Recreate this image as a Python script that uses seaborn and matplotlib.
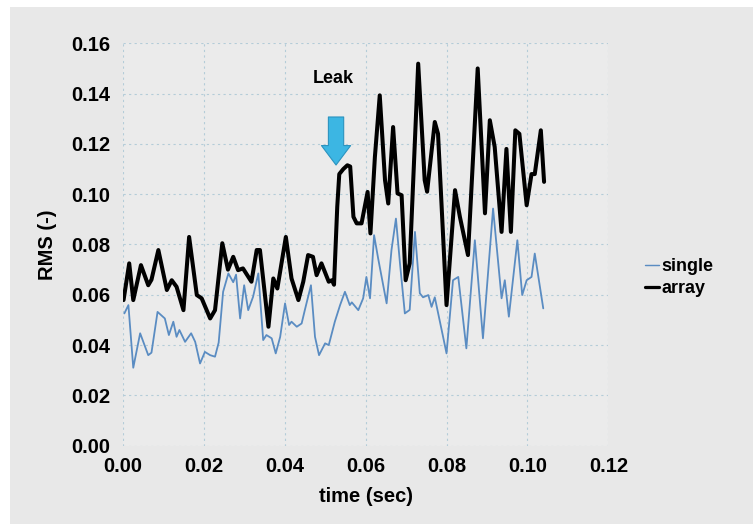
import seaborn as sns
import pandas as pd
import matplotlib.pyplot as plt
from matplotlib.patches import Rectangle

# values
single_t = [0.0004, 0.0014, 0.0026, 0.0043, 0.0063, 0.0071, 0.0086, 0.0104, 0.0114, 0.0125,
            0.0133, 0.0140, 0.0154, 0.0169, 0.0179, 0.0191, 0.0203, 0.0216, 0.0228, 0.0237,
            0.0248, 0.0261, 0.0273, 0.0280, 0.0290, 0.0300, 0.0310, 0.0322, 0.0335, 0.0347,
            0.0355, 0.0368, 0.0378, 0.0389, 0.0401, 0.0411, 0.0417, 0.0430, 0.0442, 0.0450,
            0.0465, 0.0475, 0.0485, 0.0500, 0.0509, 0.0524, 0.0537, 0.0549, 0.0561, 0.0566,
            0.0582, 0.0594, 0.0602, 0.0611, 0.0621, 0.0631, 0.0652, 0.0664, 0.0675, 0.0685,
            0.0697, 0.0709, 0.0722, 0.0734, 0.0742, 0.0755, 0.0763, 0.0771, 0.0788, 0.0800,
            0.0816, 0.0829, 0.0849, 0.0870, 0.0890, 0.0915, 0.0936, 0.0944, 0.0954, 0.0975,
            0.0987, 0.0998, 0.1010, 0.1018, 0.1039]
single_v = [0.0526, 0.0559, 0.0310, 0.0447, 0.0360, 0.0370, 0.0532, 0.0506, 0.0440, 0.0493,
            0.0433, 0.0460, 0.0413, 0.0447, 0.0413, 0.0327, 0.0373, 0.0360, 0.0354, 0.0410,
            0.0612, 0.0685, 0.0650, 0.0680, 0.0506, 0.0638, 0.0539, 0.0592, 0.0685, 0.0420,
            0.0440, 0.0427, 0.0367, 0.0433, 0.0566, 0.0480, 0.0493, 0.0473, 0.0486, 0.0540,
            0.0638, 0.0433, 0.0360, 0.0407, 0.0400, 0.0493, 0.0559, 0.0612, 0.0559, 0.0570,
            0.0539, 0.0586, 0.0671, 0.0586, 0.0837, 0.0745, 0.0566, 0.0778, 0.0903, 0.0725,
            0.0526, 0.0540, 0.0850, 0.0606, 0.0590, 0.0599, 0.0552, 0.0590, 0.0460, 0.0367,
            0.0658, 0.0671, 0.0387, 0.0817, 0.0427, 0.0943, 0.0586, 0.0658, 0.0513, 0.0817,
            0.0599, 0.0658, 0.0671, 0.0764, 0.0546]

array_t = [0.0002, 0.0016, 0.0026, 0.0045, 0.0063, 0.0071, 0.0088, 0.0109, 0.0121, 0.0133,
           0.0150, 0.0164, 0.0183, 0.0195, 0.0216, 0.0228, 0.0246, 0.0260, 0.0273, 0.0285,
           0.0297, 0.0318, 0.0331, 0.0339, 0.0350, 0.0360, 0.0372, 0.0382, 0.0403, 0.0417,
           0.0434, 0.0446, 0.0458, 0.0470, 0.0479, 0.0491, 0.0509, 0.0517, 0.0522, 0.0530,
           0.0535, 0.0545, 0.0555, 0.0562, 0.0570, 0.0578, 0.0590, 0.0605, 0.0612, 0.0623,
           0.0635, 0.0648, 0.0656, 0.0668, 0.0679, 0.0689, 0.0699, 0.0709, 0.0730, 0.0746,
           0.0752, 0.0771, 0.0779, 0.0800, 0.0821, 0.0833, 0.0853, 0.0877, 0.0895, 0.0907,
           0.0919, 0.0936, 0.0948, 0.0959, 0.0970, 0.0980, 0.0998, 0.1010, 0.1018, 0.1033,
           0.1041]
array_v = [0.0579, 0.0725, 0.0579, 0.0718, 0.0638, 0.0660, 0.0778, 0.0619, 0.0658, 0.0632,
           0.0539, 0.0830, 0.0599, 0.0586, 0.0506, 0.0539, 0.0805, 0.0700, 0.0751, 0.0698,
           0.0705, 0.0652, 0.0778, 0.0778, 0.0619, 0.0473, 0.0665, 0.0625, 0.0830, 0.0665,
           0.0579, 0.0652, 0.0758, 0.0751, 0.0678, 0.0725, 0.0652, 0.0658, 0.0640, 0.0950,
           0.1080, 0.1100, 0.1115, 0.1110, 0.0910, 0.0884, 0.0884, 0.1009, 0.0844, 0.1148,
           0.1393, 0.1056, 0.0963, 0.1267, 0.1003, 0.0996, 0.0658, 0.0725, 0.1519, 0.1056,
           0.1010, 0.1287, 0.1240, 0.0559, 0.1016, 0.0910, 0.0758, 0.1500, 0.0924, 0.1294,
           0.1188, 0.0850, 0.1180, 0.0850, 0.1254, 0.1240, 0.0956, 0.1080, 0.1080, 0.1254,
           0.1049]

series_names = ['single', 'array']
series_colors = {'single': '#5a8cc2', 'array': '#000000'}
series_widths = {'single': 1.3, 'array': 2.9}

df = pd.concat([
    pd.DataFrame({'time (sec)': single_t, 'RMS (-)': single_v, 'series': 'single'}),
    pd.DataFrame({'time (sec)': array_t, 'RMS (-)': array_v, 'series': 'array'}),
])

sns.set_theme(style='whitegrid')
plt.rcParams['font.family'] = ['Liberation Sans', 'DejaVu Sans']
plt.rcParams['font.weight'] = 'bold'
plt.rcParams['text.color'] = 'black'
plt.rcParams['axes.labelcolor'] = 'black'
plt.rcParams['xtick.color'] = 'black'
plt.rcParams['ytick.color'] = 'black'

fig = plt.figure(figsize=(7.53, 5.24), dpi=100, facecolor='white')
fig.patches.append(Rectangle((10 / 753, 0), 1, 1 - 7 / 524, transform=fig.transFigure,
                             facecolor='#e8e8e8', edgecolor='none', zorder=-10))
ax = fig.add_axes([0.163, 0.1494, 0.645, 0.768])
ax.set_facecolor('#ebebeb')

sns.lineplot(data=df, x='time (sec)', y='RMS (-)', hue='series', size='series',
             hue_order=series_names, palette=series_colors, sizes=series_widths,
             estimator=None, legend=False, ax=ax)

ax.set_xlim(0, 0.12)
ax.set_ylim(0, 0.16)
ax.set_xticks([0, 0.02, 0.04, 0.06, 0.08, 0.10, 0.12])
ax.set_yticks([0, 0.02, 0.04, 0.06, 0.08, 0.10, 0.12, 0.14, 0.16])
ax.xaxis.set_major_formatter(lambda v, p: f'{v:.2f}')
ax.yaxis.set_major_formatter(lambda v, p: f'{v:.2f}')
ax.tick_params(axis='both', labelsize=14.5, length=0)
ax.tick_params(axis='x', pad=8)
ax.tick_params(axis='y', pad=9)
for lab in ax.get_xticklabels() + ax.get_yticklabels():
    lab.set_fontweight('bold')
ax.grid(True, color='#b4ccd8', linestyle=(0, (2, 3)), linewidth=0.8)
for s in ax.spines.values():
    s.set_visible(False)
ax.set_xlabel('time (sec)', fontsize=14.5, fontweight='bold', labelpad=8)
ax.set_ylabel('RMS (-)', fontsize=14.5, fontweight='bold', labelpad=10)

# leak marker
ax.annotate('', xy=(0.0527, 0.1105), xytext=(0.0527, 0.1318),
            arrowprops=dict(arrowstyle='simple,head_width=1.05,head_length=0.7,tail_width=0.55',
                            mutation_scale=20, fc='#3cb6e3', ec='#2b93bf', lw=0.8))
ax.text(0.0519, 0.146, 'Leak', ha='center', va='center', fontsize=13, fontweight='bold')

handles = [plt.Line2D([], [], color=series_colors[n], lw=series_widths[n] * 0.8) for n in series_names]
fig.legend(handles, series_names, loc='center left', bbox_to_anchor=(0.835, 0.47),
           frameon=False, handlelength=0.8, handletextpad=0.1, labelspacing=0.25,
           prop={'size': 13, 'weight': 'bold'})

fig.savefig('out.png', dpi=100, facecolor=fig.get_facecolor())
